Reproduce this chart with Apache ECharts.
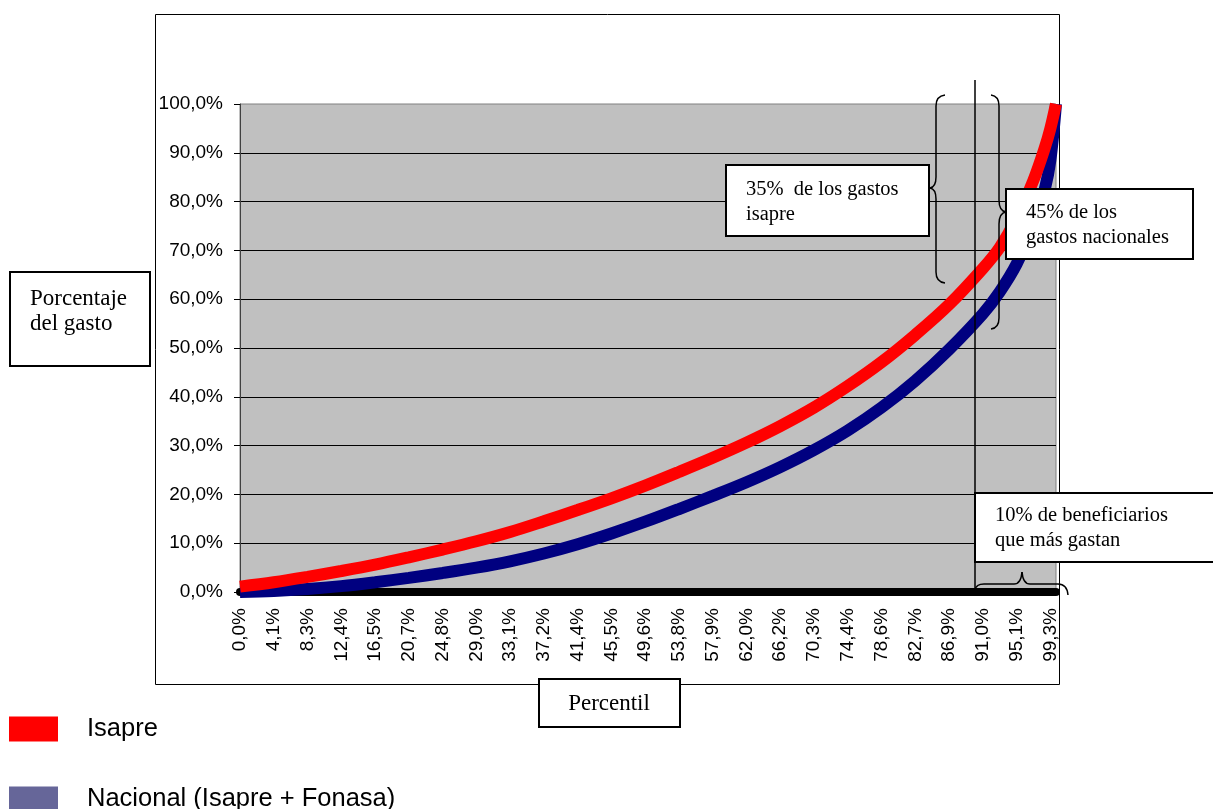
<!DOCTYPE html>
<html>
<head>
<meta charset="utf-8">
<script src="https://cdn.jsdelivr.net/npm/echarts@6/dist/echarts.min.js"></script>
<style>
  html, body { margin: 0; padding: 0; background: #fff; }
  #chart { width: 1213px; height: 809px; }
</style>
</head>
<body>
<div id="chart"></div>
<script>
// percentile tick labels shown every 6th category (146 categories, 0..145)
const tickLabels = ['0,0%', '4,1%', '8,3%', '12,4%', '16,5%', '20,7%', '24,8%', '29,0%', '33,1%',
  '37,2%', '41,4%', '45,5%', '49,6%', '53,8%', '57,9%', '62,0%', '66,2%', '70,3%', '74,4%',
  '78,6%', '82,7%', '86,9%', '91,0%', '95,1%', '99,3%']
const categoryCount = 146

// category index of each value
const sampleIdx = [0, 6, 12, 18, 24, 30, 36, 42, 48, 54, 60, 66, 72, 78, 84, 90, 96, 102, 108,
  114, 120, 126, 132, 135, 138, 141, 143, 144, 145]
// cumulative share of spending (%)
const isapre = [1.1, 2.0, 3.1, 4.3, 5.6, 7.1, 8.7, 10.4, 12.3, 14.5, 16.8, 19.2, 21.8, 24.6, 27.5,
  30.6, 34.0, 37.8, 42.2, 47.1, 52.7, 58.9, 66.3, 70.6, 76.6, 84.4, 91.0, 95.0, 100]
const nacional = [0, 0.2, 0.6, 1.2, 2.0, 2.9, 3.9, 5.0, 6.3, 7.9, 9.8, 12.0, 14.4, 17.0, 19.7,
  22.5, 25.6, 29.1, 33.1, 37.8, 43.3, 49.7, 57.0, 61.5, 67.2, 75.0, 82.5, 88.5, 100]

const serif = '"Liberation Serif", "Times New Roman", serif'
const sans = '"Liberation Sans", Arial, sans-serif'

const categories = Array.from({ length: categoryCount }, (_, i) => String(i))
const pairs = vals => sampleIdx.map((x, i) => [x, vals[i]])

function box(x, y, w, h, lw) {
  return { type: 'rect', shape: { x, y, width: w, height: h }, z: 50,
    style: { fill: '#fff', stroke: '#000', lineWidth: lw } }
}
function label(x, y, text, size, align) {
  return { type: 'text', z: 51, style: { x, y, text, font: size + 'px ' + serif, fill: '#000',
    lineHeight: 25, align: align || 'left', verticalAlign: 'top' } }
}
// curly brace made of quadratic curves and straight runs: [x1, y1, cpx, cpy, x2, y2] or [x1, y1, x2, y2]
function brace(segs) {
  return {
    type: 'group', z: 52,
    children: segs.map(s => s.length === 6
      ? { type: 'bezierCurve', z: 52, shape: { x1: s[0], y1: s[1], cpx1: s[2], cpy1: s[3], x2: s[4], y2: s[5] },
          style: { fill: null, stroke: '#000', lineWidth: 1.5 } }
      : { type: 'line', z: 52, shape: { x1: s[0], y1: s[1], x2: s[2], y2: s[3] },
          style: { stroke: '#000', lineWidth: 1.5 } })
  }
}

const chart = echarts.init(document.getElementById('chart'), null, { renderer: 'canvas' })

chart.setOption({
  animation: false,
  backgroundColor: '#fff',
  grid: { left: 240, right: 157, top: 104, bottom: 217, show: true,
    backgroundColor: '#c0c0c0', borderColor: '#808080', borderWidth: 1 },
  xAxis: {
    type: 'category',
    data: categories,
    boundaryGap: false,
    offset: 3,
    axisLine: { lineStyle: { color: '#000', width: 8 } },
    axisTick: { show: false },
    axisLabel: {
      interval: 5, rotate: 90, margin: 13,
      fontFamily: sans, fontSize: 19, color: '#000',
      formatter: (v, i) => tickLabels[i / 6]
    },
    splitLine: { show: false }
  },
  yAxis: {
    type: 'value',
    min: 0, max: 100, interval: 10,
    axisLine: { show: true, lineStyle: { color: '#404040', width: 1 } },
    axisTick: { show: true, length: 6, lineStyle: { color: '#000' } },
    axisLabel: { margin: 17, fontFamily: sans, fontSize: 19, color: '#000',
      formatter: v => v.toFixed(1).replace('.', ',') + '%' },
    splitLine: { show: true, showMinLine: false, showMaxLine: false, lineStyle: { color: '#000', width: 1 } }
  },
  legend: [
    { data: [{ name: 'Isapre', itemStyle: { color: '#ff0000' } }], padding: 0,
      left: 9, top: 716, icon: 'rect', itemWidth: 49, itemHeight: 25, selectedMode: false,
      textStyle: { fontFamily: sans, fontSize: 25.5, color: '#000', padding: [18, 0, 0, 24] } },
    { data: [{ name: 'Nacional (Isapre + Fonasa)', itemStyle: { color: '#666699' } }], padding: 0,
      left: 9, top: 786, icon: 'rect', itemWidth: 49, itemHeight: 25, selectedMode: false,
      textStyle: { fontFamily: sans, fontSize: 25.5, color: '#000', padding: [0, 0, 0, 24] } }
  ],
  series: [
    { name: 'Nacional (Isapre + Fonasa)', type: 'line', data: pairs(nacional), smooth: 0.35,
      showSymbol: false, clip: false, lineStyle: { color: '#000080', width: 12 }, itemStyle: { color: '#000080' } },
    { name: 'Isapre', type: 'line', data: pairs(isapre), smooth: 0.35,
      showSymbol: false, clip: false, lineStyle: { color: '#ff0000', width: 12 }, itemStyle: { color: '#ff0000' } }
  ],
  graphic: [
    // outer chart frame
    { type: 'rect', z: -10, shape: { x: 155.5, y: 14.5, width: 904, height: 670 },
      style: { fill: '#fff', stroke: '#000', lineWidth: 1 } },
    // 90th percentile marker
    { type: 'line', z: 40, shape: { x1: 975, y1: 80, x2: 975, y2: 591 }, style: { stroke: '#000', lineWidth: 1.5 } },
    box(10, 272, 140, 94, 2), label(30, 286, 'Porcentaje\ndel gasto', 23),
    box(539, 679, 141, 48, 2), label(609, 691, 'Percentil', 23, 'center'),
    box(726, 165, 203, 71, 2), label(746, 177, '35%  de los gastos\nisapre', 20.5),
    box(1006, 189, 187, 70, 2), label(1026, 200, '45% de los\ngastos nacionales', 20.5),
    box(975, 493, 245, 69, 2), label(995, 503, '10% de beneficiarios\nque más gastan', 20.5),
    brace([[945, 95, 936, 96, 936, 106], [936, 106, 936, 177], [936, 177, 936, 187, 930, 188],
      [930, 188, 936, 189, 936, 199], [936, 199, 936, 272], [936, 272, 936, 282, 945, 283]]),
    brace([[991, 95, 999, 96, 999, 106], [999, 106, 999, 200], [999, 200, 999, 211, 1006, 212],
      [1006, 212, 999, 213, 999, 224], [999, 224, 999, 318], [999, 318, 999, 328, 991, 329]]),
    brace([[975, 590, 976, 584, 984, 584], [984, 584, 1014, 584], [1014, 584, 1021, 584, 1022, 572],
      [1022, 572, 1023, 584, 1030, 584], [1030, 584, 1058, 584], [1058, 584, 1067, 584, 1068, 595]])
  ]
})
</script>
</body>
</html>
